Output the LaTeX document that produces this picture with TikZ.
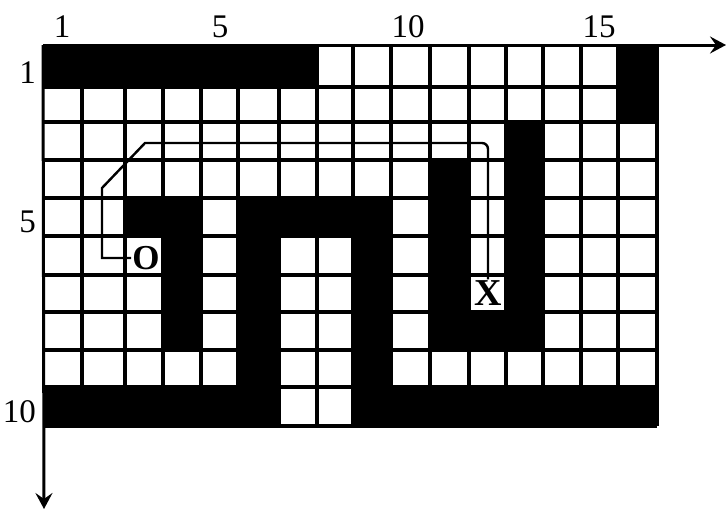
\documentclass[tikz,border=0pt]{standalone}
\usepackage{fontspec}
\setmainfont{Liberation Serif}
\usetikzlibrary{arrows.meta}
\begin{document}
\begin{tikzpicture}[x=1pt,y=-1pt,
  gridline/.style={line width=3.2pt},
  axisline/.style={line width=3pt,-{Stealth[length=16pt,width=17pt,inset=6pt]}},
  wall/.style={fill=black},
  lbl/.style={font=\fontsize{33}{33}\selectfont,inner sep=0pt},
  token/.style={font=\bfseries\fontsize{35}{35}\selectfont,inner sep=1pt},
  route/.style={line width=2.4pt}]
\useasboundingbox (0,0) rectangle (726,509);
\foreach \i/\x in {0/43,1/82,2/125,3/163,4/201,5/238,6/279,7/317,8/353,9/391,10/430,11/469,12/506,13/543,14/581,15/618,16/657}
  \coordinate (X\i) at (\x,0);
\foreach \j/\y in {0/46,1/87,2/122,3/160,4/198,5/236,6/275,7/312,8/350,9/387,10/426}
  \coordinate (Y\j) at (0,\y);
% grid
\foreach \i in {1,...,16} \draw[gridline] (X\i|-Y0) -- (X\i|-Y10);
\foreach \j in {1,...,10} \draw[gridline] (X0|-Y\j) -- (X16|-Y\j);
% walls
\fill[wall] (X0|-Y0) rectangle (X7|-Y1);
\fill[wall] (X15|-Y0) rectangle (X16|-Y2);
\fill[wall] (X12|-Y2) rectangle (X13|-Y8);
\fill[wall] (X10|-Y3) rectangle (X11|-Y8);
\fill[wall] (X10|-Y7) rectangle (X13|-Y8);
\fill[wall] (X2|-Y4) rectangle (X4|-Y5);
\fill[wall] (X3|-Y4) rectangle (X4|-Y8);
\fill[wall] (X5|-Y4) rectangle (X9|-Y5);
\fill[wall] (X5|-Y4) rectangle (X6|-Y10);
\fill[wall] (X8|-Y4) rectangle (X9|-Y10);
\fill[wall] (X0|-Y9) rectangle (X6|-Y10);
\fill[wall] (X8|-Y9) rectangle (X16|-Y10);
% axes
\coordinate (origin) at (43,45);
\coordinate (xend) at (726,45);
\coordinate (yend) at (44,509);
\draw[axisline] (origin) -- (xend);
\draw[axisline] (origin) -- (yend);
% labels
\node[lbl] (c1) at (62,27) {1};
\node[lbl] (c5) at (220,27) {5};
\node[lbl] (c10) at (408,27) {10};
\node[lbl] (c15) at (599,27) {15};
\node[lbl,anchor=east] (r1) at (36,73) {1};
\node[lbl,anchor=east] (r5) at (36,222) {5};
\node[lbl,anchor=east] (r10) at (36,412) {10};
% start and goal
\node[token] (O) at (146,258) {O};
\node[token,font=\bfseries\fontsize{38}{38}\selectfont] (Xm) at (488,293) {X};
% route
\coordinate (p1) at (102,188);
\coordinate (p2) at (145,143);
\draw[route] (O.west) -| (p1) -- (p2) [rounded corners=6pt] -| (Xm.north);
\end{tikzpicture}
\end{document}
